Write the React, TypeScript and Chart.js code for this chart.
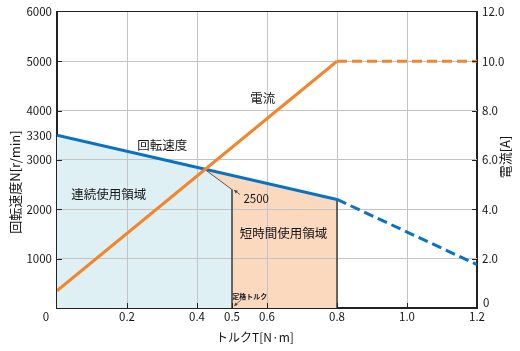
import { useEffect, useRef } from "react";
import { Chart, registerables } from "chart.js";

Chart.register(...registerables);

// ---- data ----
const xTickValues = [0, 0.2, 0.4, 0.5, 0.6, 0.8, 1.0, 1.2];
const xTickLabels = ["0", "0.2", "0.4", "0.5", "0.6", "0.8", "1.0", "1.2"];
const xGridValues = [0.2, 0.4, 0.6, 0.8, 1.0];

const speedTickValues = [0, 1000, 2000, 3000, 3500, 4000, 5000, 6000];
const speedTickLabels = ["", "1000", "2000", "3000", "3300", "4000", "5000", "6000"];
const speedGridValues = [1000, 2000, 3000, 4000, 5000];

const currentTickValues = [0, 2, 4, 6, 8, 10, 12];
const currentTickLabels = ["0", "2.0", "4.0", "6.0", "8.0", "10.0", "12.0"];

// rotation speed [r/min]
const speedTorque = [0, 0.8];
const speedRpm = [3500, 2200];
const speedDashTorque = [0.8, 1.2];
const speedDashRpm = [2200, 880];

// current [A]
const currentTorque = [0, 0.8];
const currentAmp = [0.7, 10.0];
const currentDashTorque = [0.8, 1.2];
const currentDashAmp = [10.0, 10.0];

// regions
const contRegionTorque = [0, 0.42, 0.5];
const contRegionRpm = [3500, 2820, 2400];
const shortRegionTorque = [0.42, 0.8];
const shortRegionRpm = [2820, 2200];
const contEdgeTorque = [0.42, 0.5, 0.5];
const contEdgeRpm = [2820, 2400, 0];
const shortEdgeTorque = [0.8, 0.8];
const shortEdgeRpm = [2200, 0];

const FONT = '"Noto Sans CJK JP", "Noto Sans", sans-serif';
const BLUE = "#0a72c2";
const ORANGE = "#f3852b";
const TEXT = "#151515";

const pts = (xs: number[], ys: number[]) => xs.map((x, i) => ({ x, y: ys[i] }));

const overlay = {
  id: "overlay",
  beforeDatasetsDraw(chart: any) {
    const area = chart.chartArea;
    chart.scales.x.drawGrid(area);
    chart.scales.y.drawGrid(area);
  },
  afterDraw(chart: any) {
    const ctx = chart.ctx as CanvasRenderingContext2D;
    const { x, y, y1 } = chart.scales;
    const a = chart.chartArea;
    ctx.save();
    // inward tick marks
    ctx.strokeStyle = "#222";
    ctx.lineWidth = 1;
    ctx.beginPath();
    xTickValues.forEach((v) => {
      if (v <= 0 || v >= 1.2) return;
      const px = Math.round(x.getPixelForValue(v)) + 0.5;
      ctx.moveTo(px, a.bottom);
      ctx.lineTo(px, a.bottom - 5);
    });
    speedGridValues.forEach((v) => {
      const py = Math.round(y.getPixelForValue(v)) + 0.5;
      ctx.moveTo(a.left, py);
      ctx.lineTo(a.left + 5, py);
    });
    currentTickValues.forEach((v) => {
      if (v <= 0 || v >= 12) return;
      const py = Math.round(y1.getPixelForValue(v)) + 0.5;
      ctx.moveTo(a.right, py);
      ctx.lineTo(a.right - 5, py);
    });
    ctx.stroke();

    ctx.fillStyle = TEXT;
    // corner zero labels
    ctx.font = `11.5px ${FONT}`;
    ctx.textAlign = "center";
    ctx.textBaseline = "middle";
    ctx.fillText("0", a.left - 11, a.bottom + 9);
    ctx.textAlign = "left";
    ctx.fillText("0", a.right + 6, a.bottom - 5);

    // axis titles
    ctx.font = `13px ${FONT}`;
    ctx.textAlign = "center";
    ctx.save();
    ctx.translate(15, 182);
    ctx.rotate(-Math.PI / 2);
    ctx.fillText("回転速度N[r/min]", 0, 0);
    ctx.restore();
    ctx.save();
    ctx.translate(505, 157);
    ctx.rotate(-Math.PI / 2);
    ctx.fillText("電流[A]", 0, 0);
    ctx.restore();
    ctx.font = `12px ${FONT}`;
    ctx.fillText("トルクT[N·m]", 255, 337);

    // in-plot labels
    ctx.font = `12.5px ${FONT}`;
    const label = (t: string, vx: number, vy: number) =>
      ctx.fillText(t, x.getPixelForValue(vx), y.getPixelForValue(vy));
    label("回転速度", 0.301, 3290);
    label("電流", 0.588, 4257);
    label("連続使用領域", 0.148, 2303);
    label("短時間使用領域", 0.647, 1521);
    ctx.font = `11.5px ${FONT}`;
    label("2500", 0.569, 2222);
    ctx.font = `bold 7px ${FONT}`;
    label("定格トルク", 0.551, 245);

    // arrows
    const arrow = (x1: number, y1: number, x2: number, y2: number) => {
      ctx.strokeStyle = "#444";
      ctx.fillStyle = "#444";
      ctx.lineWidth = 0.8;
      ctx.beginPath();
      ctx.moveTo(x1, y1);
      ctx.lineTo(x2, y2);
      ctx.stroke();
      const ang = Math.atan2(y2 - y1, x2 - x1);
      const h = 4;
      ctx.beginPath();
      ctx.moveTo(x2, y2);
      ctx.lineTo(x2 - h * Math.cos(ang - 0.45), y2 - h * Math.sin(ang - 0.45));
      ctx.lineTo(x2 - h * Math.cos(ang + 0.45), y2 - h * Math.sin(ang + 0.45));
      ctx.closePath();
      ctx.fill();
    };
    const cx = x.getPixelForValue(0.5);
    const cy = y.getPixelForValue(2400);
    arrow(cx + 8, cy + 5, cx + 2, cy + 0.5);
    const bx = x.getPixelForValue(0.5);
    const by = y.getPixelForValue(0);
    arrow(bx + 8.5, by - 7.5, bx + 2, by - 2);
    ctx.restore();
  },
};

export default function App() {
  const ref = useRef<HTMLCanvasElement | null>(null);
  useEffect(() => {
    if (!ref.current) return;
    const gridGray = "#c4c4c4";
    const chart = new Chart(ref.current, {
      type: "line",
      data: {
        datasets: [
          {
            data: pts(currentTorque, currentAmp),
            yAxisID: "y1",
            borderColor: ORANGE,
            borderWidth: 3,
          },
          {
            data: pts(currentDashTorque, currentDashAmp),
            yAxisID: "y1",
            borderColor: ORANGE,
            borderWidth: 3,
            borderDash: [10, 5],
          },
          {
            data: pts(speedTorque, speedRpm),
            yAxisID: "y",
            borderColor: BLUE,
            borderWidth: 3,
          },
          {
            data: pts(speedDashTorque, speedDashRpm),
            yAxisID: "y",
            borderColor: BLUE,
            borderWidth: 3,
            borderDash: [10, 5],
          },
          {
            data: pts(contEdgeTorque, contEdgeRpm),
            yAxisID: "y",
            borderColor: "#555",
            borderWidth: 1,
          },
          {
            data: pts(shortEdgeTorque, shortEdgeRpm),
            yAxisID: "y",
            borderColor: "#555",
            borderWidth: 1,
          },
          {
            data: pts(contRegionTorque, contRegionRpm),
            yAxisID: "y",
            borderColor: "rgba(0,0,0,0)",
            borderWidth: 0,
            fill: "origin",
            backgroundColor: "#dff0f5",
          },
          {
            data: pts(shortRegionTorque, shortRegionRpm),
            yAxisID: "y",
            borderColor: "rgba(0,0,0,0)",
            borderWidth: 0,
            fill: "origin",
            backgroundColor: "#fbd9bf",
          },
        ],
      },
      options: {
        responsive: false,
        animation: false,
        devicePixelRatio: 1,
        layout: { padding: { top: 11, left: 0, right: 0, bottom: 0 } },
        elements: { point: { radius: 0 }, line: { tension: 0, borderCapStyle: "butt" } },
        plugins: {
          legend: { display: false },
          tooltip: { enabled: false },
          filler: { drawTime: "beforeDatasetsDraw" },
        } as any,
        scales: {
          x: {
            type: "linear",
            min: 0,
            max: 1.2,
            afterBuildTicks: (s: any) => {
              s.ticks = xTickValues.map((v) => ({ value: v }));
            },
            afterFit: (s: any) => {
              s.height = 43;
            },
            ticks: {
              autoSkip: false,
              maxRotation: 0,
              padding: 2,
              color: TEXT,
              font: { family: FONT, size: 11.5 },
              callback: (_v: any, i: number) => (i === 0 ? "" : xTickLabels[i]),
            },
            grid: {
              drawTicks: false,
              lineWidth: 1,
              color: (c: any) =>
                c.tick && xGridValues.includes(c.tick.value) ? gridGray : "rgba(0,0,0,0)",
            },
            border: { color: "#222", width: 2 },
          },
          y: {
            type: "linear",
            position: "left",
            min: 0,
            max: 6000,
            afterBuildTicks: (s: any) => {
              s.ticks = speedTickValues.map((v) => ({ value: v }));
            },
            afterFit: (s: any) => {
              s.width = 57;
            },
            ticks: {
              autoSkip: false,
              padding: 5,
              color: TEXT,
              font: { family: FONT, size: 11.5 },
              callback: (_v: any, i: number) => speedTickLabels[i],
            },
            grid: {
              drawTicks: false,
              lineWidth: 1,
              color: (c: any) => {
                const v = c.tick ? c.tick.value : -1;
                if (v === 6000) return "#222";
                return speedGridValues.includes(v) ? gridGray : "rgba(0,0,0,0)";
              },
            },
            border: { color: "#222", width: 2 },
          },
          y1: {
            type: "linear",
            position: "right",
            min: 0,
            max: 12,
            afterBuildTicks: (s: any) => {
              s.ticks = currentTickValues.map((v) => ({ value: v }));
            },
            afterFit: (s: any) => {
              s.width = 43;
            },
            ticks: {
              autoSkip: false,
              padding: 5,
              color: TEXT,
              font: { family: FONT, size: 11.5 },
              callback: (_v: any, i: number) => (i === 0 ? "" : currentTickLabels[i]),
            },
            grid: { display: false, drawTicks: false },
            border: { color: "#222", width: 2 },
          },
        },
      } as any,
      plugins: [overlay],
    });
    return () => chart.destroy();
  }, []);
  return (
    <div style={{ position: "fixed", left: 0, top: 0, width: 520, height: 351, background: "#fff" }}>
      <canvas ref={ref} width={520} height={351} style={{ width: 520, height: 351 }} />
    </div>
  );
}
